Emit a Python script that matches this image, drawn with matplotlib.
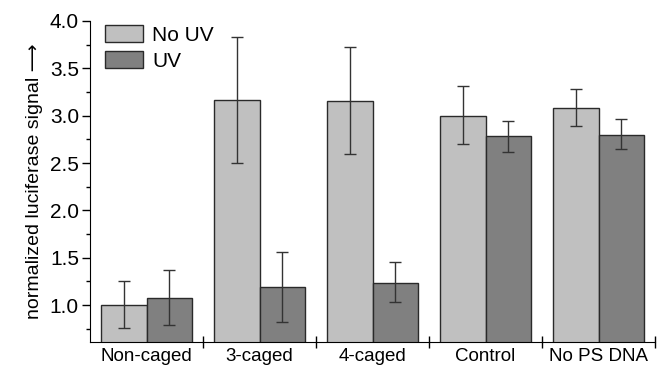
import matplotlib.pyplot as plt
import numpy as np
from matplotlib.ticker import MultipleLocator

plt.rcParams['font.family'] = ['Liberation Sans', 'DejaVu Sans']

groups = ['Non-caged', '3-caged', '4-caged', 'Control', 'No PS DNA']
no_uv = [1.00, 3.16, 3.15, 3.00, 3.08]
no_uv_hi = [1.25, 3.83, 3.72, 3.31, 3.28]
no_uv_lo = [0.755, 2.50, 2.59, 2.70, 2.89]
uv = [1.07, 1.19, 1.235, 2.78, 2.80]
uv_hi = [1.37, 1.56, 1.45, 2.94, 2.96]
uv_lo = [0.79, 0.82, 1.035, 2.615, 2.645]

light = '#c0c0c0'
dark = '#808080'
edge = '#2a2a2a'

fig = plt.figure(figsize=(6.59, 3.67), dpi=100)
ax = fig.add_axes([0.1366, 0.068, 0.8574, 0.875])

x = np.arange(len(groups)) + 0.5
w = 0.4
e1 = [np.array(no_uv) - np.array(no_uv_lo), np.array(no_uv_hi) - np.array(no_uv)]
e2 = [np.array(uv) - np.array(uv_lo), np.array(uv_hi) - np.array(uv)]
ax.bar(x - w/2, no_uv, w, color=light, edgecolor=edge, linewidth=1, label='No UV',
       yerr=e1, error_kw=dict(ecolor='#333333', elinewidth=1, capsize=4.5, capthick=1))
ax.bar(x + w/2, uv, w, color=dark, edgecolor=edge, linewidth=1, label='UV',
       yerr=e2, error_kw=dict(ecolor='#333333', elinewidth=1, capsize=4.5, capthick=1))

ax.set_xlim(0, 5)
ax.set_ylim(0.61, 4.0)
ax.spines['top'].set_visible(False)
ax.spines['right'].set_visible(False)
ax.yaxis.set_minor_locator(MultipleLocator(0.25))
ax.set_yticks([1.0, 1.5, 2.0, 2.5, 3.0, 3.5, 4.0])
ax.set_yticklabels(['1.0', '1.5', '2.0', '2.5', '3.0', '3.5', '4.0'], fontsize=15)
ax.tick_params(axis='y', which='major', length=6, width=1, pad=2)
ax.tick_params(axis='y', which='minor', length=3, width=1)

ax.set_xticks([1, 2, 3, 4, 5])
ax.set_xticklabels([])
ax.set_xticks(x, minor=True)
ax.set_xticklabels(groups, minor=True, fontsize=13.5)
ax.tick_params(axis='x', which='major', direction='inout', length=8, width=1)
ax.tick_params(axis='x', which='minor', length=0, pad=4)

ax.set_ylabel('normalized luciferase signal \u27f6', fontsize=14, labelpad=5)

ax.legend(loc='upper left', bbox_to_anchor=(0.027, 0.988), frameon=False, fontsize=15,
          borderpad=0, borderaxespad=0,
          handlelength=1.8, handleheight=0.9, handletextpad=0.45, labelspacing=0.3)

fig.savefig('out.png', dpi=100)
